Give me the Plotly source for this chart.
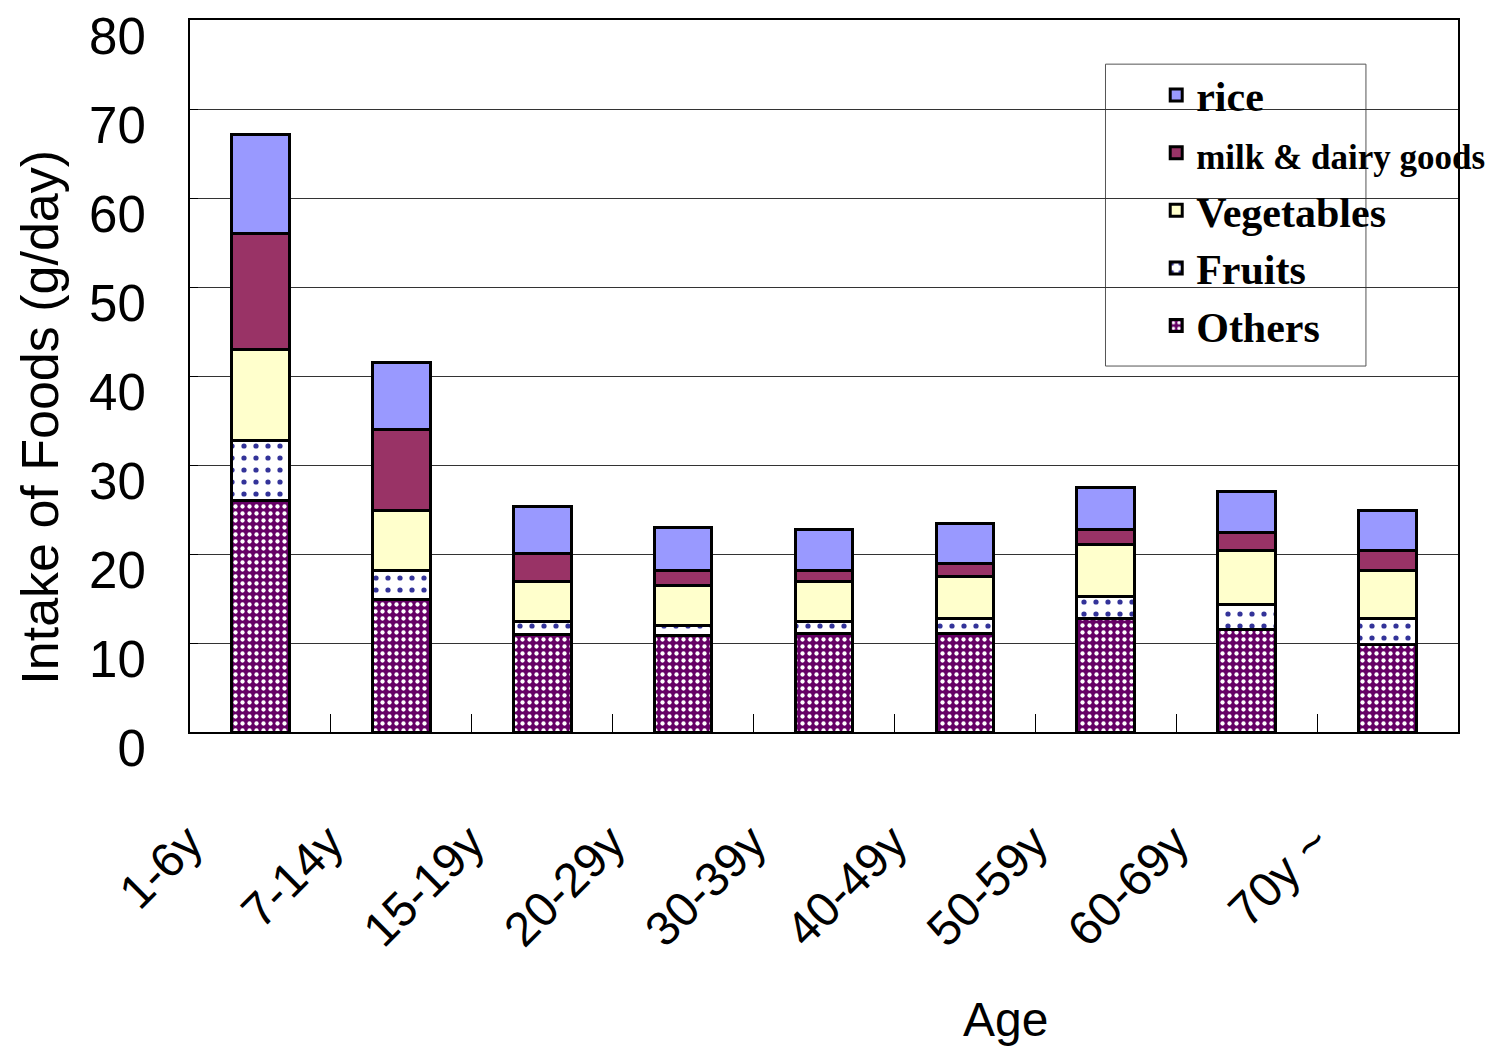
import plotly.graph_objects as go

categories = ["1-6y", "7-14y", "15-19y", "20-29y", "30-39y", "40-49y", "50-59y", "60-69y", "70y ~"]
others = [26.0, 14.9, 10.9, 10.8, 11.1, 11.1, 12.7, 11.5, 9.8]
fruits = [6.8, 3.2, 1.5, 1.2, 1.3, 1.6, 2.5, 2.8, 2.9]
vegetables = [10.2, 6.8, 4.5, 4.5, 4.5, 4.8, 5.9, 6.1, 5.4]
milk = [13.0, 9.1, 3.2, 1.6, 1.2, 1.4, 1.6, 2.0, 2.3]
rice = [11.1, 7.5, 5.2, 4.9, 4.6, 4.5, 4.8, 4.6, 4.5]
y_ticks = [0, 10, 20, 30, 40, 50, 60, 70, 80]

line = dict(color="black", width=3)
fig = go.Figure()
fig.add_trace(go.Bar(x=categories, y=others, name="<b>Others</b>",
                     marker=dict(color="#660066", line=line,
                                 pattern=dict(shape=".", bgcolor="#660066", fgcolor="white",
                                              size=7, solidity=0.3, fillmode="replace"))))
fig.add_trace(go.Bar(x=categories, y=fruits, name="<b>Fruits</b>",
                     marker=dict(color="white", line=line,
                                 pattern=dict(shape=".", bgcolor="white", fgcolor="#333399",
                                              size=12, solidity=0.15, fillmode="replace"))))
fig.add_trace(go.Bar(x=categories, y=vegetables, name="<b>Vegetables</b>",
                     marker=dict(color="#FFFFCC", line=line)))
fig.add_trace(go.Bar(x=categories, y=milk, name="<b><span style='font-size:35px'>milk &amp; dairy goods</span></b>",
                     marker=dict(color="#993366", line=line)))
fig.add_trace(go.Bar(x=categories, y=rice, name="<b>rice</b>",
                     marker=dict(color="#9999FF", line=line)))

fig.update_layout(
    width=1510, height=1046,
    barmode="stack", bargap=0.59,
    plot_bgcolor="white", paper_bgcolor="white",
    margin=dict(l=190, r=52, t=20, b=314, autoexpand=False),
    font=dict(family="Liberation Sans, Arial", size=48, color="black"),
    showlegend=True,
    legend=dict(x=0.762, y=0.942, xanchor="left", yanchor="top",
                traceorder="reversed", bgcolor="rgba(0,0,0,0)", borderwidth=0,
                font=dict(family="Liberation Serif, Times New Roman", size=42, color="black"),
                tracegroupgap=0),
    xaxis=dict(showline=True, linecolor="black", linewidth=2, mirror=True,
               ticks="inside", tickson="boundaries", ticklen=18, tickcolor="black",
               tickangle=-45, ticklabelstandoff=61, ticklabelshift=-72,
               tickfont=dict(size=48), showgrid=False),
    yaxis=dict(range=[0, 80], tickmode="array", tickvals=y_ticks,
               showline=True, linecolor="black", linewidth=2, mirror=True,
               showgrid=True, gridcolor="#333333", gridwidth=1,
               ticks="inside", ticklen=8, tickcolor="black",
               ticklabelshift=16, ticklabelstandoff=32, ticklabeloverflow="allow",
               tickfont=dict(size=51), zeroline=False),
    annotations=[
        dict(text="Intake of Foods (g/day)", xref="paper", yref="paper", x=-0.118, y=0.442,
             textangle=-90, showarrow=False, font=dict(size=52), xanchor="center", yanchor="middle"),
        dict(text="Age", xref="paper", yref="paper", x=0.643, y=-0.404,
             showarrow=False, font=dict(size=48), xanchor="center", yanchor="middle"),
    ],
    shapes=[dict(type="rect", xref="paper", yref="paper", x0=0.722, x1=0.9274, y0=0.514, y1=0.938,
                 line=dict(color="#555555", width=1), fillcolor="rgba(255,255,255,1)", layer="below")],
)

fig.write_html("out.html", config={"displayModeBar": False},
               post_script="document.body.style.margin='0';")
